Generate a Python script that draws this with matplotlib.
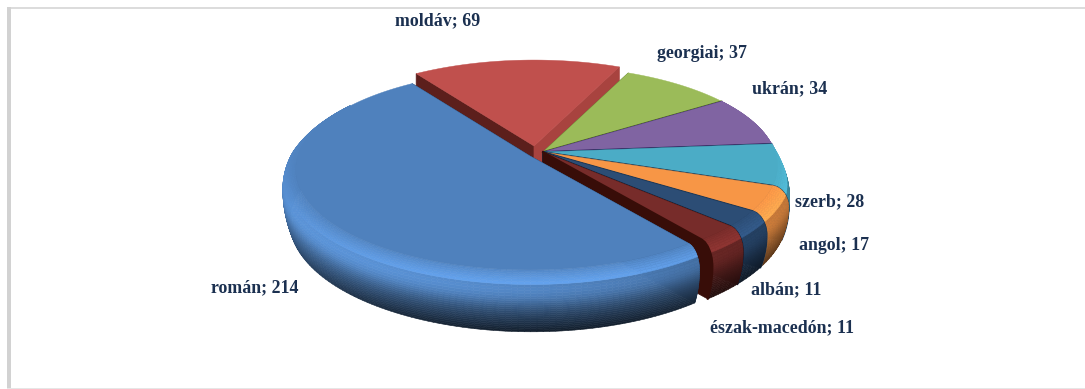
import numpy as np
import matplotlib
matplotlib.use('Agg')
import matplotlib.pyplot as plt
from matplotlib.collections import PolyCollection
from matplotlib.colors import to_rgb
from matplotlib.patches import Polygon, Rectangle

categories = ['román', 'moldáv', 'georgiai', 'ukrán', 'szerb', 'angol', 'albán', 'észak-macedón']
values = [214, 69, 37, 34, 28, 17, 11, 11]

colors = ['#4f81bd', '#c0504d', '#9bbb59', '#8064a2', '#4bacc6', '#f79646', '#2c4d75', '#772c2a']
wall_colors = ['#1d3654', '#a8433f', '#4f6a20', '#2b1f5a', '#1f3a55', '#1f3a55', '#10233c', '#380d08']
start_wall_colors = ['#1d3654', '#5c1f1c', '#4f6a20', '#2b1f5a', '#1f3a55', '#1f3a55', '#10233c', '#380d08']
offsets = [(-13, 4), (-9, -6), (0, 0), (0, 0), (0, 0), (0, 0), (0, 0), (0, 0)]
label_pos = [(255, 288), (438, 21), (702, 53), (790, 89), (830, 202), (834, 245), (786, 290), (782, 328)]

CX, CY = 543, 152
A, B = 232, 98
K = 0.14
START = 307.5
N_LEVELS = 30
BEVEL = 18
WALL = 32


def bevel_width(t):
    # the rounded edge only shows on the near half of the disc
    s = np.sin(t)
    w = 0.0625 + 0.0075 * np.cos(t)
    if np.cos(t) > 0:
        return w * np.clip((0.12 - s) / 0.45, 0, 1) ** 0.8
    return w * np.clip((0.8 - s) / 0.7, 0, 1) ** 0.8


def proj(t, r, z, ox=0, oy=0):
    # tilted disc with a bit of perspective, result in pixels
    s = 1 / (1 + K * np.sin(t))
    return CX + ox + A * r * np.cos(t) * s, CY + oy - B * r * np.sin(t) * s + z * s


def profile(t, v):
    # v=0 inner edge of the bevel, v=1 bottom of the side
    w0 = bevel_width(t)
    if v < 0.4:
        a = v / 0.4 * np.pi / 2
        return 1 + w0 * np.sin(a), BEVEL * (1 - np.cos(a))
    w = (v - 0.4) / 0.6
    return 1 + w0 - 0.03 * w ** 2, BEVEL + WALL * w


def shade(base, t, v):
    front = max(0.0, -np.sin(t))
    back = max(0.0, np.sin(t))
    lip = np.exp(-((v - 0.33) / 0.25) ** 2) * (0.06 + 0.24 * front) * (1 - back)
    dark = max(0.0, (v - 0.3) / 0.7) ** 1.1 * (0.25 + 0.47 * front)
    side = np.clip((np.degrees(t) % 360 - 200) / 110, 0, 1) * 0.3 * (v > 0.25)
    return np.clip(np.array(base) * (1 + lip) * (1 - dark) * (1 - side), 0, 1)


def draw_wall(ax, t, ox, oy, color, zorder):
    # straight cut side of a slice
    pts = [proj(t, 0, 0, ox, oy)]
    for v in np.linspace(0, 1, 12):
        r, z = profile(t, v)
        pts.append(proj(t, r, z, ox, oy))
    pts.append(proj(t, 0, BEVEL + WALL, ox, oy))
    ax.add_patch(Polygon(pts, closed=True, fc=color, ec=color, lw=0.5, zorder=zorder))


def draw_slice(ax, t1, t2, i, zorder):
    ox, oy = offsets[i]
    base = to_rgb(colors[i])
    draw_wall(ax, t1, ox, oy, start_wall_colors[i], zorder)
    draw_wall(ax, t2, ox, oy, wall_colors[i], zorder)

    ts = np.linspace(t1, t2, max(int(abs(t2 - t1) * 45), 6))
    levels = np.linspace(1, 0, N_LEVELS)
    quads, cols = [], []
    for v1, v2 in zip(levels[:-1], levels[1:]):
        for a, b in zip(ts[:-1], ts[1:]):
            # far side of the rim faces away
            if np.sin((a + b) / 2) > 0.55:
                continue
            quads.append([proj(a, *profile(a, v1), ox, oy), proj(b, *profile(b, v1), ox, oy),
                          proj(b, *profile(b, v2), ox, oy), proj(a, *profile(a, v2), ox, oy)])
            cols.append(shade(base, (a + b) / 2, (v1 + v2) / 2))
    if quads:
        ax.add_collection(PolyCollection(quads, facecolors=cols, edgecolors=cols, linewidths=0.4,
                                         zorder=zorder + 0.1))

    top = [proj(0, 0, 0, ox, oy)] + [proj(t, 1, 0, ox, oy) for t in ts]
    ax.add_patch(Polygon(top, closed=True, fc=base, ec=base, lw=0.3, zorder=zorder + 0.2))

    # dark seam on the clockwise edge
    if i > 1:
        seam = [proj(t2, 0, 0, ox, oy)]
        seam += [proj(t2, *profile(t2, v), ox, oy) for v in np.linspace(0, 1, 14)]
        xs, ys = zip(*seam)
        ax.plot(xs, ys, color=wall_colors[i], lw=1.3, zorder=zorder + 0.3)


fig = plt.figure(figsize=(10.85, 3.89), dpi=100)
ax = fig.add_axes([0, 0, 1, 1])
ax.set_xlim(0, 1085)
ax.set_ylim(389, 0)
ax.axis('off')

# frame of the picture
ax.add_patch(Rectangle((7, 7), 1078, 1.5, fc='#dcdcdc', ec='none'))
ax.add_patch(Rectangle((7, 7), 3.5, 382, fc='#d2d2d2', ec='none'))
ax.add_patch(Rectangle((7, 387.5), 1078, 1.5, fc='#e6e6e6', ec='none'))

total = sum(values)
spans = np.radians(np.array(values) / total * 360)
edges = np.radians(START) - np.concatenate([[0], np.cumsum(spans)])

# back slices first, the big exploded one on top
for n, i in enumerate(list(range(1, len(values))) + [0]):
    draw_slice(ax, edges[i], edges[i + 1], i, 2 + n)

for name, val, (x, y) in zip(categories, values, label_pos):
    ax.text(x, y, f'{name}; {val}', family='Liberation Serif', weight='bold', fontsize=12.9,
            color='#1b3050', ha='center', va='center', zorder=20)

fig.savefig('out.png', dpi=100)
